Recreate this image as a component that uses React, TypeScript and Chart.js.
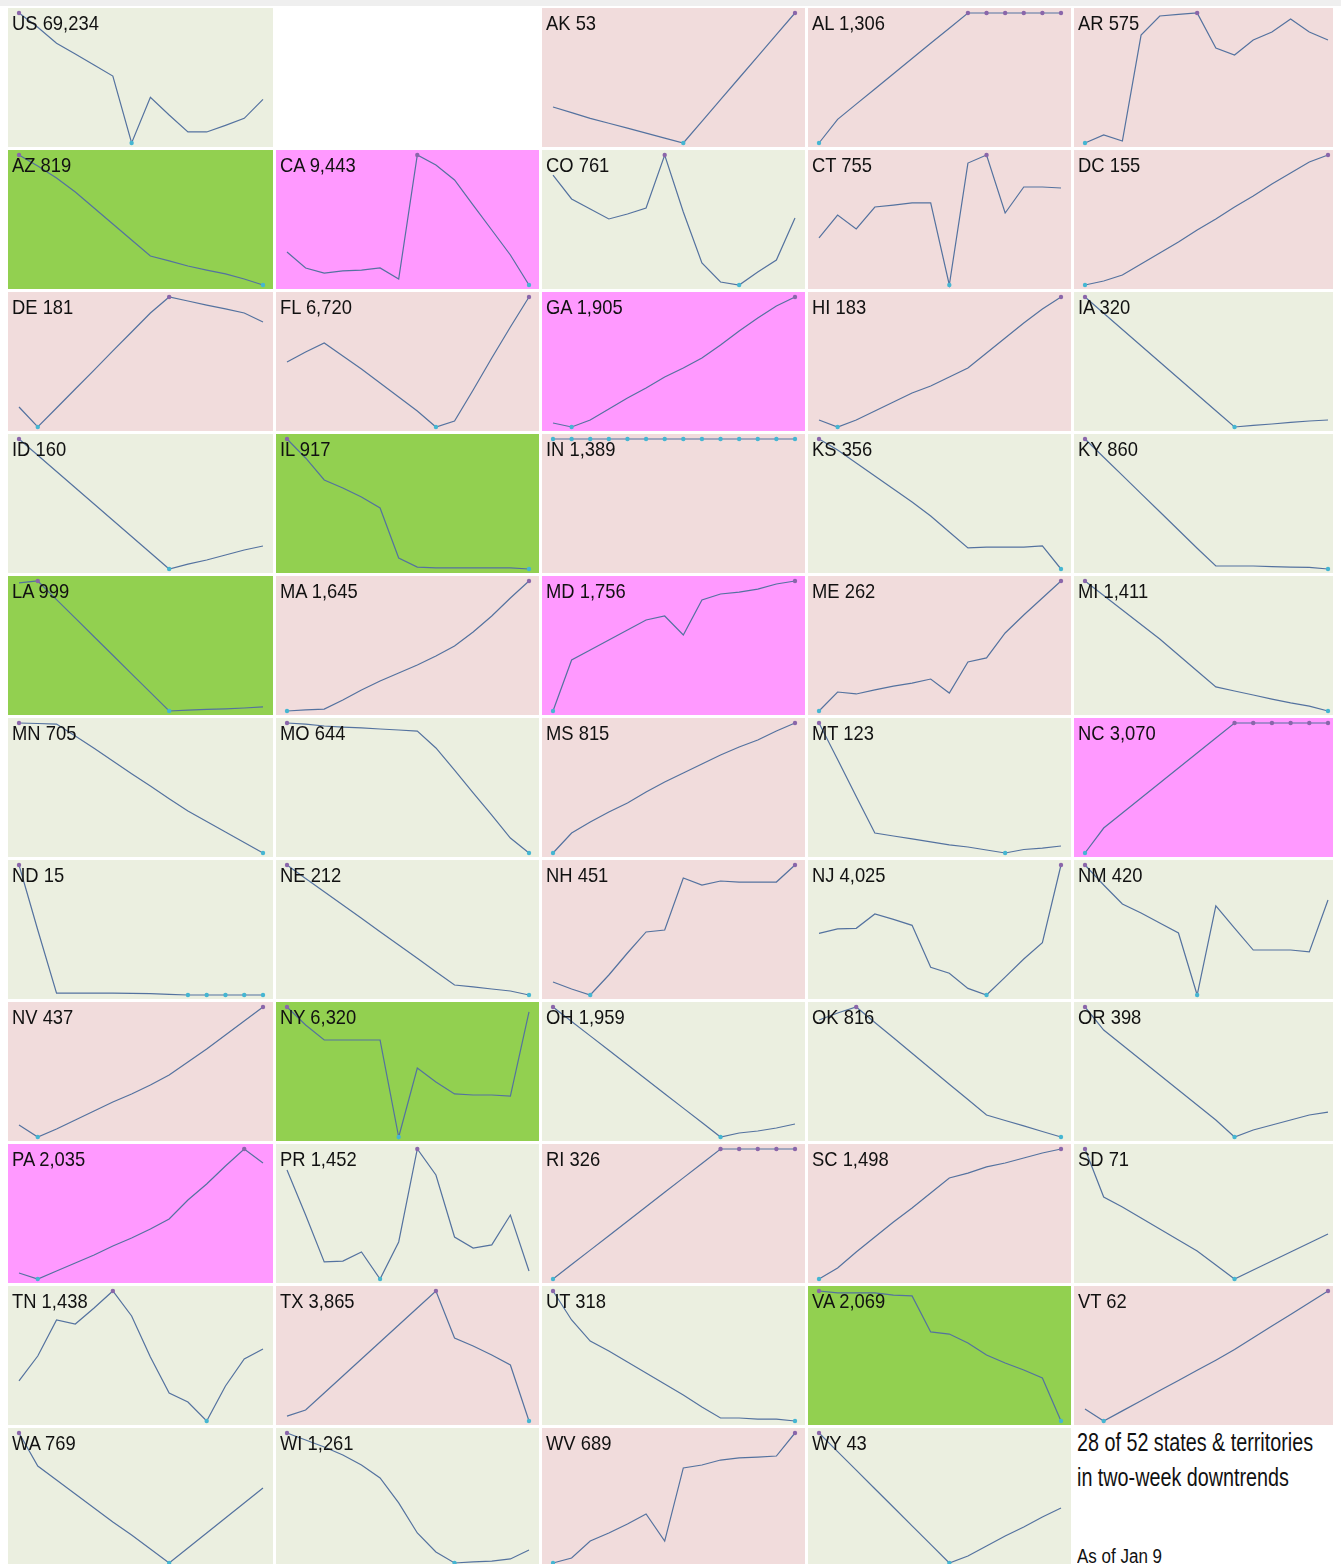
import React, { useEffect, useRef } from "react";
import { Chart, registerables } from "chart.js";
Chart.register(...registerables);

// 14 days ending Jan 9
const days = ["Dec 27", "Dec 28", "Dec 29", "Dec 30", "Dec 31", "Jan 1", "Jan 2", "Jan 3", "Jan 4", "Jan 5", "Jan 6", "Jan 7", "Jan 8", "Jan 9"];

// Relative trend values (each panel is scaled to its own min..max)
const sUS = [100, 89, 76.7, 68.5, 60, 51.5, 0, 35.1, 21.5, 8.5, 8.5, 13.6, 19, 33.6];
const sAK = [27.7, 23.4, 19, 15.2, 11.4, 7.6, 3.8, 0, 16.7, 33.3, 50, 66.7, 83.3, 100];
const sAL = [0, 18.2, 29.9, 41.6, 53.3, 65, 76.7, 88.2, 100, 100, 100, 100, 100, 100];
const sAR = [0, 6.2, 1.5, 83, 97.7, 99, 100, 73, 67.7, 79.2, 85.4, 95.4, 85.4, 79.2];
const sAZ = [100, 91.5, 82.3, 71.5, 59.2, 46.9, 34.6, 22.3, 18.5, 14.6, 11.5, 8.5, 4.6, 0];
const sCA = [25.4, 13.1, 9.2, 10.8, 11.5, 13.1, 4.6, 100, 92.3, 80.8, 61.5, 42.3, 23.1, 0];
const sCO = [84.6, 66.2, 58.5, 50.8, 54.6, 59.2, 100, 56.2, 16.9, 2.3, 0, 10, 19.2, 51.5];
const sCT = [36.2, 53.8, 43.1, 60, 61.5, 63.1, 63.1, 0, 93.8, 100, 55.4, 75.4, 75.4, 74.6];
const sDC = [0, 3.1, 7.7, 16.2, 24.6, 33.1, 42.3, 50.8, 60, 68.5, 77.7, 86.2, 94.6, 100];
const sDE = [15.4, 0, 14.6, 29.2, 43.8, 58.5, 73.1, 87.7, 100, 96.9, 93.8, 90.8, 87.7, 80.8];
const sFL = [50, 57.7, 64.6, 54.6, 44.6, 33.8, 23.1, 12.3, 0, 4.6, 28.5, 53.1, 76.9, 100];
const sGA = [3.1, 0, 5.4, 13.8, 22.3, 30, 38.5, 45.4, 53.1, 63.1, 73.8, 83.8, 93.1, 100];
const sHI = [5.4, 0, 5.4, 12.3, 19.2, 26.2, 31.5, 38.5, 45.4, 56.9, 68.5, 80, 90.8, 100];
const sIA = [100, 87.5, 75, 62.5, 50, 37.5, 25, 12.5, 0, 1.2, 2.3, 3.5, 4.6, 5.4];
const sID = [100, 87.5, 75, 62.5, 50, 37.5, 25, 12.5, 0, 3.8, 6.9, 10.8, 14.6, 17.7];
const sIL = [100, 85.4, 68.5, 62.3, 55.4, 46.9, 8.5, 1.5, 0.8, 0.8, 0.8, 0.8, 0.8, 0];
const sIN = [100, 100, 100, 100, 100, 100, 100, 100, 100, 100, 100, 100, 100, 100];
const sKS = [100, 91.5, 81.5, 71.5, 61.5, 51.5, 40.8, 28.5, 16.2, 16.9, 16.9, 16.9, 17.7, 0];
const sKY = [100, 86, 72, 58, 44, 30, 16, 2.3, 2.3, 2.3, 1.9, 1.5, 1.2, 0];
const sLA = [98.5, 100, 85.7, 71.4, 57.1, 42.9, 28.6, 14.3, 0, 0.6, 1.2, 1.7, 2.3, 3.1];
const sMA = [0, 0.8, 1.5, 8.5, 16.2, 23.1, 29.2, 35.4, 42.3, 50, 60.8, 73.1, 86.9, 100];
const sMD = [0, 39.2, 46.9, 54.6, 62.3, 70, 73.1, 58.5, 85.4, 90, 91.5, 93.8, 97.7, 100];
const sME = [0, 14.6, 13.1, 16.2, 19.2, 21.5, 24.6, 13.8, 37.7, 40.8, 60, 73.8, 86.9, 100];
const sMI = [100, 88.8, 77.7, 66.5, 55.4, 43.1, 30.8, 18.5, 15.4, 12.3, 9.2, 6.2, 3.8, 0];
const sMN = [100, 99.6, 99.2, 90, 80.5, 70.8, 61, 51.5, 41.8, 32.3, 24.2, 16.2, 8.1, 0];
const sMO = [100, 99.2, 97.7, 96.9, 96.2, 95.4, 94.6, 93.8, 80.8, 63.8, 46.2, 29.2, 11.5, 0];
const sMS = [0, 15.4, 23.8, 31.5, 38.5, 46.9, 54.6, 61.5, 68.5, 75.4, 81.5, 86.9, 93.8, 100];
const sMT = [100, 72, 43.5, 15.4, 13.1, 10.8, 8.5, 6.2, 4.6, 2.3, 0, 2.7, 3.8, 5.4];
const sNC = [0, 19.2, 30.8, 42.3, 53.8, 65.4, 76.9, 88.5, 100, 100, 100, 100, 100, 100];
const sND = [100, 50, 1.5, 1.5, 1.5, 1.5, 1.3, 1.0, 0.5, 0, 0, 0, 0, 0];
const sNE = [100, 89.7, 79.5, 69.2, 59, 48.7, 38.5, 28.2, 17.9, 7.7, 6.2, 4.6, 3.1, 0];
const sNH = [10, 4.6, 0, 15.4, 32.3, 48.5, 50, 90, 84.6, 87.7, 86.9, 86.9, 86.9, 100];
const sNJ = [47.4, 50.8, 51.3, 62.3, 58.2, 53.6, 21.3, 16.7, 5.1, 0, 13.8, 27.7, 40.2, 100];
const sNM = [100, 84.6, 70, 63.1, 55.4, 47.7, 0, 68.5, 51.5, 34.6, 34.6, 34.6, 33.1, 73.1];
const sNV = [9.2, 0, 6.2, 13.1, 20, 26.9, 33.1, 40, 47.7, 57.7, 67.7, 78.5, 89.2, 100];
const sNY = [100, 86.2, 74.6, 74.6, 74.6, 74.6, 0, 53.1, 42.3, 33.1, 32.3, 32.3, 31.5, 96.2];
const sOH = [100, 88.9, 77.8, 66.7, 55.6, 44.4, 33.3, 22.2, 11.1, 0, 3.1, 4.6, 6.9, 10];
const sOK = [90, 95.4, 100, 88.1, 76.3, 64.4, 52.5, 40.6, 28.8, 16.9, 12.7, 8.5, 4.2, 0];
const sOR = [100, 82.3, 70.8, 59.2, 47.7, 36.2, 24.6, 13.1, 0, 5.4, 9.2, 13.1, 16.9, 19.2];
const sPA = [4.6, 0, 6.2, 12.3, 18.5, 25.4, 31.5, 38.5, 46.2, 60.8, 73.1, 86.9, 100, 89.2];
const sPR = [83.8, 49.2, 13.1, 13.8, 20.8, 0, 28.5, 100, 80, 32.3, 23.8, 26.2, 49.2, 6.2];
const sRI = [0, 11.1, 22.2, 33.3, 44.4, 55.6, 66.7, 77.8, 88.9, 100, 100, 100, 100, 100];
const sSC = [0, 8.5, 20.8, 32.3, 43.8, 54.6, 66.2, 77.7, 81.5, 86.2, 89.2, 93.1, 96.9, 100];
const sSD = [100, 63.1, 55.4, 46.9, 38.5, 30, 21.5, 10.8, 0, 6.9, 13.8, 20.8, 27.7, 34.6];
const sTN = [30.8, 50, 77.7, 74.6, 86.9, 100, 80.8, 49.2, 21.5, 14.6, 0, 26.9, 47.7, 55.4];
const sTX = [3.8, 8.5, 21.5, 34.6, 47.7, 60.8, 73.8, 86.9, 100, 63.8, 57.7, 50.8, 43.1, 0];
const sUT = [100, 77.7, 61.5, 53.8, 45.4, 36.9, 28.5, 20, 10.8, 2.3, 2.3, 1.5, 1.5, 0];
const sVA = [100, 98.5, 98.5, 98.5, 96.9, 96.2, 68.5, 66.9, 60, 50.8, 44.6, 39.2, 33.1, 0];
const sVT = [9.2, 0, 7.8, 15.6, 23.4, 31.2, 39, 46.8, 55, 64, 73, 82, 91, 100];
const sWA = [100, 74.6, 63.8, 53.1, 42.3, 31.5, 21.5, 10.8, 0, 11.5, 23.1, 34.6, 46.2, 57.7];
const sWI = [100, 94.6, 89.2, 83.1, 75.4, 65.4, 46.2, 23.1, 8.5, 0, 0.8, 1.5, 3.1, 10];
const sWV = [0, 3.8, 16.9, 23.1, 30, 37.7, 16.9, 73.1, 75.4, 79.2, 80.8, 81.5, 82.3, 100];
const sWY = [100, 85.7, 71.4, 57.1, 42.9, 28.6, 14.3, 0, 5.4, 13.1, 20.8, 27.7, 35.4, 42.3];

// Panel codes (grid order; "" = empty cell after US)
const codes = ["US", "", "AK", "AL", "AR", "AZ", "CA", "CO", "CT", "DC", "DE", "FL", "GA", "HI", "IA", "ID", "IL", "IN", "KS", "KY", "LA", "MA", "MD", "ME", "MI", "MN", "MO", "MS", "MT", "NC", "ND", "NE", "NH", "NJ", "NM", "NV", "NY", "OH", "OK", "OR", "PA", "PR", "RI", "SC", "SD", "TN", "TX", "UT", "VA", "VT", "WA", "WI", "WV", "WY"];
const totals = ["69,234", "", "53", "1,306", "575", "819", "9,443", "761", "755", "155", "181", "6,720", "1,905", "183", "320", "160", "917", "1,389", "356", "860", "999", "1,645", "1,756", "262", "1,411", "705", "644", "815", "123", "3,070", "15", "212", "451", "4,025", "420", "437", "6,320", "1,959", "816", "398", "2,035", "1,452", "326", "1,498", "71", "1,438", "3,865", "318", "2,069", "62", "769", "1,261", "689", "43"];
// d = downtrend, D = strong downtrend, u = uptrend, U = strong uptrend
const trends = ["d", "", "u", "u", "u", "D", "U", "d", "u", "u", "u", "u", "U", "u", "d", "d", "D", "u", "d", "d", "D", "u", "U", "u", "d", "d", "d", "u", "d", "U", "d", "d", "u", "d", "d", "u", "D", "d", "d", "d", "U", "d", "u", "u", "d", "d", "u", "d", "D", "u", "d", "d", "u", "d"];
const series = [sUS, [], sAK, sAL, sAR, sAZ, sCA, sCO, sCT, sDC, sDE, sFL, sGA, sHI, sIA, sID, sIL, sIN, sKS, sKY, sLA, sMA, sMD, sME, sMI, sMN, sMO, sMS, sMT, sNC, sND, sNE, sNH, sNJ, sNM, sNV, sNY, sOH, sOK, sOR, sPA, sPR, sRI, sSC, sSD, sTN, sTX, sUT, sVA, sVT, sWA, sWI, sWV, sWY];

const summaryLines = ["28 of 52 states & territories", "in two-week downtrends"];
const asOf = "As of Jan 9";

const BG: Record<string, string> = { d: "#ebefe0", D: "#92d050", u: "#f1dcdc", U: "#ff99ff" };
const COL_W = [265, 263, 263, 263, 264];
const CELL_H = 139;
const FONT = '"Liberation Sans", Arial, sans-serif';

function Spark({ values, width }: { values: number[]; width: number }) {
  const ref = useRef<HTMLCanvasElement>(null);
  useEffect(() => {
    const lo = Math.min(...values);
    const hi = Math.max(...values);
    const colors = values.map((v) => (v === lo ? "#45b6d2" : v === hi ? "#8a66aa" : "rgba(0,0,0,0)"));
    const radii = values.map((v) => (v === lo || v === hi ? 2.2 : 0));
    const chart = new Chart(ref.current as HTMLCanvasElement, {
      type: "line",
      data: {
        labels: days,
        datasets: [
          {
            data: values,
            borderColor: "#54729f",
            borderWidth: 1.2,
            tension: 0,
            pointRadius: radii,
            pointHoverRadius: radii,
            pointBackgroundColor: colors,
            pointBorderWidth: 0,
            clip: false as any,
          },
        ],
      },
      options: {
        animation: false,
        responsive: false,
        events: [],
        layout: { padding: { left: 11, right: 10, top: 5, bottom: 4 } },
        plugins: { legend: { display: false }, tooltip: { enabled: false }, title: { display: false } },
        scales: {
          x: { display: false, offset: false },
          y: { display: false, min: hi === lo ? lo - 1 : lo, max: hi },
        },
      },
    });
    return () => chart.destroy();
  }, []);
  return <canvas ref={ref} width={width} height={CELL_H} style={{ position: "absolute", left: 0, top: 0 }} />;
}

export default function App() {
  const cells = codes.map((code, i) => {
    const w = COL_W[i % 5];
    if (code === "") {
      return <div key={i} style={{ width: w, height: CELL_H, background: "#ffffff" }} />;
    }
    return (
      <div key={i} style={{ position: "relative", width: w, height: CELL_H, background: BG[trends[i]], overflow: "hidden" }}>
        <Spark values={series[i]} width={w} />
        <div
          style={{
            position: "absolute",
            left: 4,
            top: 4,
            fontFamily: FONT,
            fontSize: 21,
            lineHeight: "21px",
            color: "#111",
            whiteSpace: "nowrap",
            transform: "scaleX(0.875)",
            transformOrigin: "0 0",
          }}
        >
          {code} {totals[i]}
        </div>
      </div>
    );
  });
  cells.push(
    <div key="summary" style={{ position: "relative", width: COL_W[4], height: CELL_H, background: "#ffffff" }}>
      <div
        style={{
          position: "absolute",
          left: 3,
          top: -3,
          fontFamily: FONT,
          fontSize: 25,
          lineHeight: "35px",
          color: "#111",
          whiteSpace: "nowrap",
          transform: "scaleX(0.79)",
          transformOrigin: "0 0",
        }}
      >
        {summaryLines.map((l, k) => (
          <div key={k}>{l}</div>
        ))}
      </div>
      <div
        style={{
          position: "absolute",
          left: 3,
          top: 118,
          fontFamily: FONT,
          fontSize: 20,
          lineHeight: "20px",
          color: "#111",
          whiteSpace: "nowrap",
          transform: "scaleX(0.85)",
          transformOrigin: "0 0",
        }}
      >
        {asOf}
      </div>
    </div>
  );
  return (
    <div>
      <div style={{ position: "absolute", left: 0, top: 0, width: 1341, height: 6, background: "#efefef" }} />
      <div
        style={{
          display: "grid",
          gridTemplateColumns: COL_W.map((w) => w + "px").join(" "),
          gridAutoRows: CELL_H + "px",
          columnGap: 3,
          rowGap: 3,
        }}
      >
        {cells}
      </div>
    </div>
  );
}
